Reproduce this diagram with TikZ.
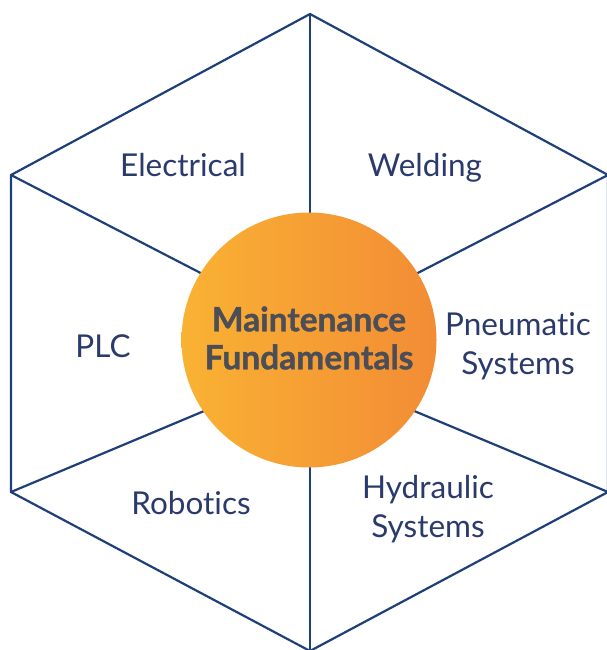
\documentclass[tikz,border=0pt]{standalone}
\usepackage{fontspec}
\setmainfont{Lato}[Ligatures={NoCommon}, BoldFeatures={FakeBold=1.2}]
\definecolor{navy}{HTML}{1E3F78}
\definecolor{txt}{HTML}{2A3A6B}
\definecolor{orL}{HTML}{F9B233}
\definecolor{orR}{HTML}{F28C35}
\definecolor{ctext}{HTML}{4B4D57}
\begin{document}
\begin{tikzpicture}[x=1pt,y=-1pt,
  edge/.style={draw=navy, line width=2.2pt, line join=miter},
  lab/.style={text=txt, font=\fontsize{31.5}{39}\selectfont, align=center, inner sep=0pt},
  hub/.style={circle, minimum size=255pt, inner sep=0pt, left color=orL, right color=orR, draw=none},
  hubtext/.style={text=ctext, font=\fontsize{33.5}{38}\selectfont\bfseries, align=center, inner sep=0pt}]
\useasboundingbox (0,0) rectangle (607,650);
\coordinate (T) at (310,14);
\coordinate (UR) at (608,175);
\coordinate (LR) at (608,492);
\coordinate (B) at (310,651);
\coordinate (LL) at (11,492);
\coordinate (UL) at (11,175);
\coordinate (cu) at (309,329);
\coordinate (cl) at (309,367);
\coordinate (cm) at (310,340);
\draw[edge] (T) -- (UR) -- (LR) -- (B) -- (LL) -- (UL) -- cycle;
\draw[edge] (T) -- (cm);
\draw[edge] (B) -- (cm);
\draw[edge] (UL) -- (cu);
\draw[edge] (UR) -- (cu);
\draw[edge] (LL) -- (cl);
\draw[edge] (LR) -- (cl);
\node[hub] (c) at (309,340) {};
\node[hubtext] (ct) at (309,338) {Maintenance\\Fundamentals};
\node[lab] (el) at (183,165) {Electrical};
\node[lab] (we) at (425,168) {Welding};
\node[lab] (plc) at (103,346) {PLC};
\node[lab] (pn) at (518,346) {Pneumatic\\Systems};
\node[lab] (ro) at (191,503) {Robotics};
\node[lab] (hy) at (428,509) {Hydraulic\\Systems};
\end{tikzpicture}
\end{document}
